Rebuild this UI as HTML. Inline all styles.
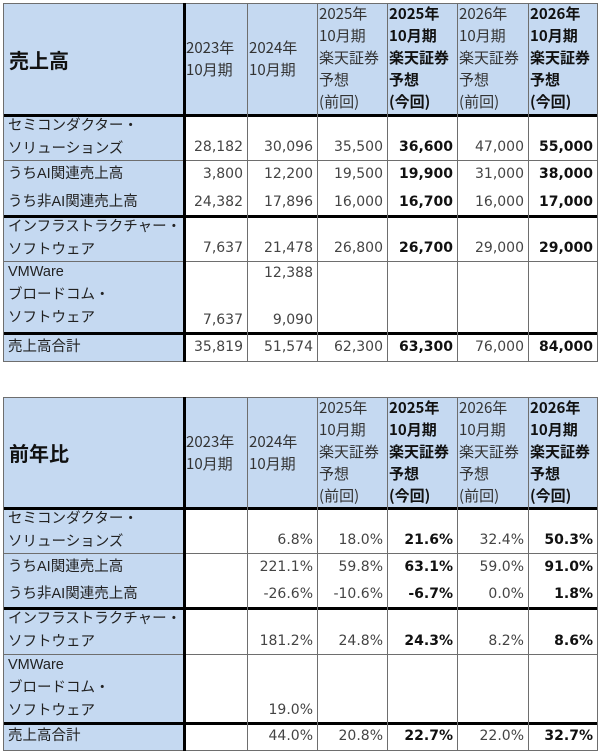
<!DOCTYPE html>
<html><head><meta charset="utf-8">
<style>
html,body{margin:0;padding:0;background:#fff;}
body{width:600px;height:752px;position:relative;overflow:hidden;font-family:"DejaVu Sans","Noto Sans CJK JP",sans-serif;color:#444;}
.c{position:absolute;box-sizing:border-box;}
.ln{position:absolute;}
.lbl{font-family:"Liberation Sans","Noto Sans CJK JP",sans-serif;font-size:14.5px;color:#222;padding-left:5px;line-height:23px;}
.num{font-size:14px;text-align:right;padding-right:4px;line-height:23px;}
.b{font-weight:bold;color:#111;}
.hd{font-size:15px;line-height:22px;padding-left:2px;font-family:"Noto Sans CJK JP",sans-serif;color:#333;}
.hd.b{color:#111;}
</style></head><body>
<script>
// column headers
const headers = [["2023年","10月期"],["2024年","10月期"],["2025年","10月期","楽天証券","予想","(前回)"],["2025年","10月期","楽天証券","予想","(今回)"],["2026年","10月期","楽天証券","予想","(前回)"],["2026年","10月期","楽天証券","予想","(今回)"]];
const boldCols = [false,false,false,true,false,true];
// row labels
const rowLabels = [["セミコンダクター・","ソリューションズ"],["うちAI関連売上高"],["うち非AI関連売上高"],["インフラストラクチャー・","ソフトウェア"],["VMWare","ブロードコム・","ソフトウェア"],["売上高合計"]];
// sales values (rows x columns)
const salesValues = [
 ["28,182","30,096","35,500","36,600","47,000","55,000"],
 ["3,800","12,200","19,500","19,900","31,000","38,000"],
 ["24,382","17,896","16,000","16,700","16,000","17,000"],
 ["7,637","21,478","26,800","26,700","29,000","29,000"],
 ["7,637",["12,388","9,090"],"","","",""],
 ["35,819","51,574","62,300","63,300","76,000","84,000"]];
// year-over-year values
const yoyValues = [
 ["","6.8%","18.0%","21.6%","32.4%","50.3%"],
 ["","221.1%","59.8%","63.1%","59.0%","91.0%"],
 ["","-26.6%","-10.6%","-6.7%","0.0%","1.8%"],
 ["","181.2%","24.8%","24.3%","8.2%","8.6%"],
 ["","19.0%","","","",""],
 ["","44.0%","20.8%","22.7%","22.0%","32.7%"]];

const X=[3,184,247,317,387,457,528,597];
function mk(cls){const d=document.createElement('div');d.className=cls;document.body.appendChild(d);return d;}
function hline(y,x1,x2,w,col,name){const d=mk('ln');


d.style.left=x1+'px';d.style.width=(x2-x1+1)+'px';d.style.top=(y-Math.floor(w/2))+'px';d.style.height=w+'px';d.style.background=col;}
function vline(x,y1,y2,w,col,name){const d=mk('ln');


d.style.top=y1+'px';d.style.height=(y2-y1+1)+'px';d.style.left=(x-Math.floor(w/2))+'px';d.style.width=w+'px';d.style.background=col;}

function table(Y,title,vals,tname){
 for(let c=0;c<7;c++){
  const d=mk('c');
  
  
  d.style.left=X[c]+'px';d.style.top=Y[0]+'px';d.style.width=(X[c+1]-X[c])+'px';d.style.height=(Y[1]-Y[0])+'px';
  d.style.background='#c5d9f1';
  if(c===0){d.style.display='flex';d.style.alignItems='center';d.style.paddingLeft='6px';
   d.innerHTML='<span style="font-family:\'Liberation Sans\',\'Noto Sans CJK JP\',sans-serif;font-weight:bold;font-size:20px;color:#111">'+title+'</span>';}
  else{const h=headers[c-1];d.className='c hd'+(boldCols[c-1]?' b':'');
   d.innerHTML=h.join('<br>');
   if(h.length===2){d.style.paddingTop=((Y[1]-Y[0])/2-22)+'px';}else{d.style.paddingTop='0px';}}
 }
 for(let r=0;r<6;r++){
  const y0=Y[r+1],y1=Y[r+2];
  const l=mk('c lbl');
  
  
  l.style.left=X[0]+'px';l.style.top=y0+'px';l.style.width=(X[1]-X[0])+'px';l.style.height=(y1-y0)+'px';l.style.background='#c5d9f1';
  l.innerHTML=rowLabels[r].join('<br>');
  if(rowLabels[r].length===1){l.style.paddingTop=((y1-y0-23)/2)+'px';}
  for(let c=0;c<6;c++){
   const d=mk('c num'+(boldCols[c]?' b':''));
   
   
   d.style.left=X[c+1]+'px';d.style.top=y0+'px';d.style.width=(X[c+2]-X[c+1])+'px';d.style.height=(y1-y0)+'px';
   const v=vals[r][c];
   if(Array.isArray(v)){d.style.display='flex';d.style.flexDirection='column';d.style.justifyContent='space-between';d.style.alignItems='flex-end';d.style.padding='1px 4px 1px 0';
    d.innerHTML='<span>'+v[0]+'</span><span>'+v[1]+'</span>';}
   else{d.style.display='flex';d.style.alignItems='flex-end';d.style.justifyContent='flex-end';
    d.style.paddingBottom=(rowLabels[r].length===1?((y1-y0-23)/2):1)+'px';
    d.textContent=v;}
  }
 }
 const top=Y[0],bot=Y[7];
 for(let i=0;i<8;i++){
  if(i===3)continue;
  const thick=(i===1||i===4||i===6);
  hline(Y[i],X[0],X[7],thick?3:1,thick?'#000':'#6e6e6e',tname+'-hline-'+i);
 }
 for(let i=0;i<8;i++){
  const thick=(i===1);
  vline(X[i],top,bot,thick?3:1,thick?'#000':'#6e6e6e',tname+'-vline-'+i);
 }
}
table([3,115,160,188,216,261,333,361],'売上高',salesValues,'sales-table');
table([397,508,553,581,608,654,723,750],'前年比',yoyValues,'yoy-table');
</script>
</body></html>
